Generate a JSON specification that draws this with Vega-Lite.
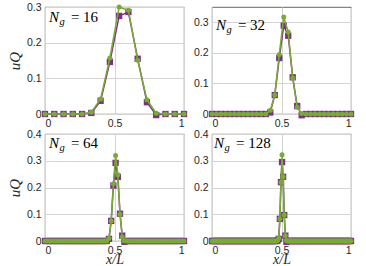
{
  "$schema": "https://vega.github.io/schema/vega-lite/v6.json",
  "padding": {"left": 7, "top": 1, "right": 5, "bottom": 0},
  "background": "white",
  "datasets": {
    "d": [
      {"n":16,"x":0,"p":0,"g":0},{"n":16,"x":0.0667,"p":0,"g":0},{"n":16,"x":0.1333,"p":0,"g":0},{"n":16,"x":0.2,"p":0,"g":0},
      {"n":16,"x":0.2667,"p":0,"g":0},{"n":16,"x":0.3333,"p":0.003,"g":0.005},{"n":16,"x":0.4,"p":0.037,"g":0.042},{"n":16,"x":0.4667,"p":0.146,"g":0.157},
      {"n":16,"x":0.5333,"p":0.275,"g":0.3},{"n":16,"x":0.6,"p":0.286,"g":0.291},{"n":16,"x":0.6667,"p":0.155,"g":0.151},{"n":16,"x":0.7333,"p":0.033,"g":0.04},
      {"n":16,"x":0.8,"p":-0.003,"g":0.002},{"n":16,"x":0.8667,"p":0,"g":0},{"n":16,"x":0.9333,"p":0,"g":0},{"n":16,"x":1,"p":0,"g":0},

      {"n":32,"x":0,"p":0,"g":0},{"n":32,"x":0.0323,"p":0,"g":0},{"n":32,"x":0.0645,"p":0,"g":0},{"n":32,"x":0.0968,"p":0,"g":0},
      {"n":32,"x":0.129,"p":0,"g":0},{"n":32,"x":0.1613,"p":0,"g":0},{"n":32,"x":0.1935,"p":0,"g":0},{"n":32,"x":0.2258,"p":0,"g":0},
      {"n":32,"x":0.2581,"p":0,"g":0},{"n":32,"x":0.2903,"p":0,"g":0},{"n":32,"x":0.3226,"p":0,"g":0},{"n":32,"x":0.3548,"p":0,"g":0},
      {"n":32,"x":0.3871,"p":0,"g":0},{"n":32,"x":0.4194,"p":0.005,"g":0.012},{"n":32,"x":0.4516,"p":0.062,"g":0.062},{"n":32,"x":0.4839,"p":0.183,"g":0.195},
      {"n":32,"x":0.5161,"p":0.289,"g":0.317},{"n":32,"x":0.5484,"p":0.256,"g":0.268},{"n":32,"x":0.5806,"p":0.12,"g":0.118},{"n":32,"x":0.6129,"p":0.026,"g":0.022},
      {"n":32,"x":0.6452,"p":-0.004,"g":0.002},{"n":32,"x":0.6774,"p":0,"g":0},{"n":32,"x":0.7097,"p":0,"g":0},{"n":32,"x":0.7419,"p":0,"g":0},
      {"n":32,"x":0.7742,"p":0,"g":0},{"n":32,"x":0.8065,"p":0,"g":0},{"n":32,"x":0.8387,"p":0,"g":0},{"n":32,"x":0.871,"p":0,"g":0},
      {"n":32,"x":0.9032,"p":0,"g":0},{"n":32,"x":0.9355,"p":0,"g":0},{"n":32,"x":0.9677,"p":0,"g":0},{"n":32,"x":1,"p":0,"g":0},

      {"n":64,"x":0,"p":0,"g":0},{"n":64,"x":0.0159,"p":0,"g":0},{"n":64,"x":0.0317,"p":0,"g":0},{"n":64,"x":0.0476,"p":0,"g":0},
      {"n":64,"x":0.0635,"p":0,"g":0},{"n":64,"x":0.0794,"p":0,"g":0},{"n":64,"x":0.0952,"p":0,"g":0},{"n":64,"x":0.1111,"p":0,"g":0},
      {"n":64,"x":0.127,"p":0,"g":0},{"n":64,"x":0.1429,"p":0,"g":0},{"n":64,"x":0.1587,"p":0,"g":0},{"n":64,"x":0.1746,"p":0,"g":0},
      {"n":64,"x":0.1905,"p":0,"g":0},{"n":64,"x":0.2063,"p":0,"g":0},{"n":64,"x":0.2222,"p":0,"g":0},{"n":64,"x":0.2381,"p":0,"g":0},
      {"n":64,"x":0.254,"p":0,"g":0},{"n":64,"x":0.2698,"p":0,"g":0},{"n":64,"x":0.2857,"p":0,"g":0},{"n":64,"x":0.3016,"p":0,"g":0},
      {"n":64,"x":0.3175,"p":0,"g":0},{"n":64,"x":0.3333,"p":0,"g":0},{"n":64,"x":0.3492,"p":0,"g":0},{"n":64,"x":0.3651,"p":0,"g":0},
      {"n":64,"x":0.381,"p":0,"g":0},{"n":64,"x":0.3968,"p":0,"g":0},{"n":64,"x":0.4127,"p":0,"g":0},{"n":64,"x":0.4286,"p":0,"g":0},
      {"n":64,"x":0.4444,"p":0,"g":0},{"n":64,"x":0.4603,"p":0.008,"g":0.01},{"n":64,"x":0.4762,"p":0.075,"g":0.075},{"n":64,"x":0.4921,"p":0.207,"g":0.214},
      {"n":64,"x":0.5079,"p":0.292,"g":0.32},{"n":64,"x":0.5238,"p":0.24,"g":0.248},{"n":64,"x":0.5397,"p":0.102,"g":0.1},{"n":64,"x":0.5556,"p":0.02,"g":0.015},
      {"n":64,"x":0.5714,"p":-0.003,"g":0.001},{"n":64,"x":0.5873,"p":0,"g":0},{"n":64,"x":0.6032,"p":0,"g":0},{"n":64,"x":0.619,"p":0,"g":0},
      {"n":64,"x":0.6349,"p":0,"g":0},{"n":64,"x":0.6508,"p":0,"g":0},{"n":64,"x":0.6667,"p":0,"g":0},{"n":64,"x":0.6825,"p":0,"g":0},
      {"n":64,"x":0.6984,"p":0,"g":0},{"n":64,"x":0.7143,"p":0,"g":0},{"n":64,"x":0.7302,"p":0,"g":0},{"n":64,"x":0.746,"p":0,"g":0},
      {"n":64,"x":0.7619,"p":0,"g":0},{"n":64,"x":0.7778,"p":0,"g":0},{"n":64,"x":0.7937,"p":0,"g":0},{"n":64,"x":0.8095,"p":0,"g":0},
      {"n":64,"x":0.8254,"p":0,"g":0},{"n":64,"x":0.8413,"p":0,"g":0},{"n":64,"x":0.8571,"p":0,"g":0},{"n":64,"x":0.873,"p":0,"g":0},
      {"n":64,"x":0.8889,"p":0,"g":0},{"n":64,"x":0.9048,"p":0,"g":0},{"n":64,"x":0.9206,"p":0,"g":0},{"n":64,"x":0.9365,"p":0,"g":0},
      {"n":64,"x":0.9524,"p":0,"g":0},{"n":64,"x":0.9683,"p":0,"g":0},{"n":64,"x":0.9841,"p":0,"g":0},{"n":64,"x":1,"p":0,"g":0},

      {"n":128,"x":0,"p":0,"g":0},{"n":128,"x":0.0079,"p":0,"g":0},{"n":128,"x":0.0157,"p":0,"g":0},{"n":128,"x":0.0236,"p":0,"g":0},
      {"n":128,"x":0.0315,"p":0,"g":0},{"n":128,"x":0.0394,"p":0,"g":0},{"n":128,"x":0.0472,"p":0,"g":0},{"n":128,"x":0.0551,"p":0,"g":0},
      {"n":128,"x":0.063,"p":0,"g":0},{"n":128,"x":0.0709,"p":0,"g":0},{"n":128,"x":0.0787,"p":0,"g":0},{"n":128,"x":0.0866,"p":0,"g":0},
      {"n":128,"x":0.0945,"p":0,"g":0},{"n":128,"x":0.1024,"p":0,"g":0},{"n":128,"x":0.1102,"p":0,"g":0},{"n":128,"x":0.1181,"p":0,"g":0},
      {"n":128,"x":0.126,"p":0,"g":0},{"n":128,"x":0.1339,"p":0,"g":0},{"n":128,"x":0.1417,"p":0,"g":0},{"n":128,"x":0.1496,"p":0,"g":0},
      {"n":128,"x":0.1575,"p":0,"g":0},{"n":128,"x":0.1654,"p":0,"g":0},{"n":128,"x":0.1732,"p":0,"g":0},{"n":128,"x":0.1811,"p":0,"g":0},
      {"n":128,"x":0.189,"p":0,"g":0},{"n":128,"x":0.1969,"p":0,"g":0},{"n":128,"x":0.2047,"p":0,"g":0},{"n":128,"x":0.2126,"p":0,"g":0},
      {"n":128,"x":0.2205,"p":0,"g":0},{"n":128,"x":0.2283,"p":0,"g":0},{"n":128,"x":0.2362,"p":0,"g":0},{"n":128,"x":0.2441,"p":0,"g":0},
      {"n":128,"x":0.252,"p":0,"g":0},{"n":128,"x":0.2598,"p":0,"g":0},{"n":128,"x":0.2677,"p":0,"g":0},{"n":128,"x":0.2756,"p":0,"g":0},
      {"n":128,"x":0.2835,"p":0,"g":0},{"n":128,"x":0.2913,"p":0,"g":0},{"n":128,"x":0.2992,"p":0,"g":0},{"n":128,"x":0.3071,"p":0,"g":0},
      {"n":128,"x":0.315,"p":0,"g":0},{"n":128,"x":0.3228,"p":0,"g":0},{"n":128,"x":0.3307,"p":0,"g":0},{"n":128,"x":0.3386,"p":0,"g":0},
      {"n":128,"x":0.3465,"p":0,"g":0},{"n":128,"x":0.3543,"p":0,"g":0},{"n":128,"x":0.3622,"p":0,"g":0},{"n":128,"x":0.3701,"p":0,"g":0},
      {"n":128,"x":0.378,"p":0,"g":0},{"n":128,"x":0.3858,"p":0,"g":0},{"n":128,"x":0.3937,"p":0,"g":0},{"n":128,"x":0.4016,"p":0,"g":0},
      {"n":128,"x":0.4094,"p":0,"g":0},{"n":128,"x":0.4173,"p":0,"g":0},{"n":128,"x":0.4252,"p":0,"g":0},{"n":128,"x":0.4331,"p":0,"g":0},
      {"n":128,"x":0.4409,"p":0,"g":0},{"n":128,"x":0.4488,"p":0,"g":0},{"n":128,"x":0.4567,"p":0,"g":0},{"n":128,"x":0.4646,"p":0,"g":0},
      {"n":128,"x":0.4724,"p":0.002,"g":0.003},{"n":128,"x":0.4803,"p":0.008,"g":0.01},{"n":128,"x":0.4882,"p":0.083,"g":0.083},{"n":128,"x":0.4961,"p":0.22,"g":0.22},
      {"n":128,"x":0.5039,"p":0.295,"g":0.322},{"n":128,"x":0.5118,"p":0.24,"g":0.24},{"n":128,"x":0.5197,"p":0.097,"g":0.097},{"n":128,"x":0.5276,"p":0.02,"g":0.02},
      {"n":128,"x":0.5354,"p":-0.003,"g":0.002},{"n":128,"x":0.5433,"p":0,"g":0},{"n":128,"x":0.5512,"p":0,"g":0},{"n":128,"x":0.5591,"p":0,"g":0},
      {"n":128,"x":0.5669,"p":0,"g":0},{"n":128,"x":0.5748,"p":0,"g":0},{"n":128,"x":0.5827,"p":0,"g":0},{"n":128,"x":0.5906,"p":0,"g":0},
      {"n":128,"x":0.5984,"p":0,"g":0},{"n":128,"x":0.6063,"p":0,"g":0},{"n":128,"x":0.6142,"p":0,"g":0},{"n":128,"x":0.622,"p":0,"g":0},
      {"n":128,"x":0.6299,"p":0,"g":0},{"n":128,"x":0.6378,"p":0,"g":0},{"n":128,"x":0.6457,"p":0,"g":0},{"n":128,"x":0.6535,"p":0,"g":0},
      {"n":128,"x":0.6614,"p":0,"g":0},{"n":128,"x":0.6693,"p":0,"g":0},{"n":128,"x":0.6772,"p":0,"g":0},{"n":128,"x":0.685,"p":0,"g":0},
      {"n":128,"x":0.6929,"p":0,"g":0},{"n":128,"x":0.7008,"p":0,"g":0},{"n":128,"x":0.7087,"p":0,"g":0},{"n":128,"x":0.7165,"p":0,"g":0},
      {"n":128,"x":0.7244,"p":0,"g":0},{"n":128,"x":0.7323,"p":0,"g":0},{"n":128,"x":0.7402,"p":0,"g":0},{"n":128,"x":0.748,"p":0,"g":0},
      {"n":128,"x":0.7559,"p":0,"g":0},{"n":128,"x":0.7638,"p":0,"g":0},{"n":128,"x":0.7717,"p":0,"g":0},{"n":128,"x":0.7795,"p":0,"g":0},
      {"n":128,"x":0.7874,"p":0,"g":0},{"n":128,"x":0.7953,"p":0,"g":0},{"n":128,"x":0.8031,"p":0,"g":0},{"n":128,"x":0.811,"p":0,"g":0},
      {"n":128,"x":0.8189,"p":0,"g":0},{"n":128,"x":0.8268,"p":0,"g":0},{"n":128,"x":0.8346,"p":0,"g":0},{"n":128,"x":0.8425,"p":0,"g":0},
      {"n":128,"x":0.8504,"p":0,"g":0},{"n":128,"x":0.8583,"p":0,"g":0},{"n":128,"x":0.8661,"p":0,"g":0},{"n":128,"x":0.874,"p":0,"g":0},
      {"n":128,"x":0.8819,"p":0,"g":0},{"n":128,"x":0.8898,"p":0,"g":0},{"n":128,"x":0.8976,"p":0,"g":0},{"n":128,"x":0.9055,"p":0,"g":0},
      {"n":128,"x":0.9134,"p":0,"g":0},{"n":128,"x":0.9213,"p":0,"g":0},{"n":128,"x":0.9291,"p":0,"g":0},{"n":128,"x":0.937,"p":0,"g":0},
      {"n":128,"x":0.9449,"p":0,"g":0},{"n":128,"x":0.9528,"p":0,"g":0},{"n":128,"x":0.9606,"p":0,"g":0},{"n":128,"x":0.9685,"p":0,"g":0},
      {"n":128,"x":0.9764,"p":0,"g":0},{"n":128,"x":0.9843,"p":0,"g":0},{"n":128,"x":0.9921,"p":0,"g":0},{"n":128,"x":1,"p":0,"g":0}
    ]
  },
  "columns": 2,
  "bounds": "flush",
  "spacing": {"row": 20, "column": 28},
  "concat": [
    {
      "width": 139, "height": 107,
      "layer": [
        {"data": {"name": "d"}, "transform": [{"filter": "datum.n == 16"}],
         "encoding": {
           "x": {"field": "x", "type": "quantitative", "scale": {"domain": [0, 1]}, "axis": {"values": [0, 0.5, 1], "format": "~g", "title": null, "labelOverlap": false, "grid": true}},
           "y": {"field": "p", "type": "quantitative", "scale": {"domain": [0, 0.3]}, "axis": {"values": [0, 0.1, 0.2, 0.3], "format": "~g", "title": "uQ", "labelOverlap": false, "grid": true}}
         },
         "layer": [
           {"mark": {"type": "line", "color": "#7E2F8E", "strokeWidth": 1.5}},
           {"mark": {"type": "square", "color": "#7E2F8E", "size": 40, "opacity": 1}},
           {"mark": {"type": "line", "color": "#77AC30", "strokeWidth": 1.5}, "encoding": {"y": {"field": "g", "type": "quantitative", "title": "uQ"}}},
           {"mark": {"type": "circle", "color": "#77AC30", "size": 25, "opacity": 1}, "encoding": {"y": {"field": "g", "type": "quantitative", "title": "uQ"}}}
         ]},
        {"data": {"values": [{"t": "N"}]}, "mark": {"type": "text", "font": "Liberation Serif", "fontStyle": "italic", "fontSize": 15, "align": "left", "baseline": "alphabetic", "color": "#000"},
         "encoding": {"x": {"datum": 0.028, "type": "quantitative", "axis": {"values": [0, 0.5, 1], "format": "~g", "title": null, "labelOverlap": false, "grid": true}}, "y": {"datum": 0.2593, "type": "quantitative", "axis": {"values": [0, 0.1, 0.2, 0.3], "format": "~g", "title": "uQ", "labelOverlap": false, "grid": true}}, "text": {"field": "t"}}},
        {"data": {"values": [{"t": "g"}]}, "mark": {"type": "text", "font": "Liberation Serif", "fontStyle": "italic", "fontSize": 10.5, "align": "left", "baseline": "alphabetic", "dx": 10.5, "dy": 3, "color": "#000"},
         "encoding": {"x": {"datum": 0.028, "type": "quantitative", "axis": {"values": [0, 0.5, 1], "format": "~g", "title": null, "labelOverlap": false, "grid": true}}, "y": {"datum": 0.2593, "type": "quantitative", "axis": {"values": [0, 0.1, 0.2, 0.3], "format": "~g", "title": "uQ", "labelOverlap": false, "grid": true}}, "text": {"field": "t"}}},
        {"data": {"values": [{"t": "= 16"}]}, "mark": {"type": "text", "font": "Liberation Serif", "fontSize": 15, "align": "left", "baseline": "alphabetic", "dx": 22, "color": "#000"},
         "encoding": {"x": {"datum": 0.028, "type": "quantitative", "axis": {"values": [0, 0.5, 1], "format": "~g", "title": null, "labelOverlap": false, "grid": true}}, "y": {"datum": 0.2593, "type": "quantitative", "axis": {"values": [0, 0.1, 0.2, 0.3], "format": "~g", "title": "uQ", "labelOverlap": false, "grid": true}}, "text": {"field": "t"}}}
      ]
    },
    {
      "width": 139, "height": 107,
      "layer": [
        {"data": {"name": "d"}, "transform": [{"filter": "datum.n == 32"}],
         "encoding": {
           "x": {"field": "x", "type": "quantitative", "scale": {"domain": [0, 1]}, "axis": {"values": [0, 0.5, 1], "format": "~g", "title": null, "labelOverlap": false, "grid": true}},
           "y": {"field": "p", "type": "quantitative", "scale": {"domain": [0, 0.317]}, "axis": {"values": [0, 0.1, 0.2, 0.3], "format": "~g", "title": null, "labelOverlap": false, "grid": true}}
         },
         "layer": [
           {"mark": {"type": "line", "color": "#7E2F8E", "strokeWidth": 1.5}},
           {"mark": {"type": "square", "color": "#7E2F8E", "size": 40, "opacity": 1}},
           {"mark": {"type": "line", "color": "#77AC30", "strokeWidth": 1.5}, "encoding": {"y": {"field": "g", "type": "quantitative", "title": null}}},
           {"mark": {"type": "circle", "color": "#77AC30", "size": 25, "opacity": 1}, "encoding": {"y": {"field": "g", "type": "quantitative", "title": null}}}
         ]},
        {"data": {"values": [{"t": "N"}]}, "mark": {"type": "text", "font": "Liberation Serif", "fontStyle": "italic", "fontSize": 15, "align": "left", "baseline": "alphabetic", "color": "#000"},
         "encoding": {"x": {"datum": 0.028, "type": "quantitative", "axis": {"values": [0, 0.5, 1], "format": "~g", "title": null, "labelOverlap": false, "grid": true}}, "y": {"datum": 0.274, "type": "quantitative", "axis": {"values": [0, 0.1, 0.2, 0.3], "format": "~g", "title": null, "labelOverlap": false, "grid": true}}, "text": {"field": "t"}}},
        {"data": {"values": [{"t": "g"}]}, "mark": {"type": "text", "font": "Liberation Serif", "fontStyle": "italic", "fontSize": 10.5, "align": "left", "baseline": "alphabetic", "dx": 10.5, "dy": 3, "color": "#000"},
         "encoding": {"x": {"datum": 0.028, "type": "quantitative", "axis": {"values": [0, 0.5, 1], "format": "~g", "title": null, "labelOverlap": false, "grid": true}}, "y": {"datum": 0.274, "type": "quantitative", "axis": {"values": [0, 0.1, 0.2, 0.3], "format": "~g", "title": null, "labelOverlap": false, "grid": true}}, "text": {"field": "t"}}},
        {"data": {"values": [{"t": "= 32"}]}, "mark": {"type": "text", "font": "Liberation Serif", "fontSize": 15, "align": "left", "baseline": "alphabetic", "dx": 22, "color": "#000"},
         "encoding": {"x": {"datum": 0.028, "type": "quantitative", "axis": {"values": [0, 0.5, 1], "format": "~g", "title": null, "labelOverlap": false, "grid": true}}, "y": {"datum": 0.274, "type": "quantitative", "axis": {"values": [0, 0.1, 0.2, 0.3], "format": "~g", "title": null, "labelOverlap": false, "grid": true}}, "text": {"field": "t"}}}
      ]
    },
    {
      "width": 139, "height": 107,
      "layer": [
        {"data": {"name": "d"}, "transform": [{"filter": "datum.n == 64"}],
         "encoding": {
           "x": {"field": "x", "type": "quantitative", "scale": {"domain": [0, 1]}, "axis": {"values": [0, 0.5, 1], "format": "~g", "title": "x/L", "labelOverlap": false, "grid": true}},
           "y": {"field": "p", "type": "quantitative", "scale": {"domain": [0, 0.4]}, "axis": {"values": [0, 0.1, 0.2, 0.3, 0.4], "format": "~g", "title": "uQ", "labelOverlap": false, "grid": true}}
         },
         "layer": [
           {"mark": {"type": "line", "color": "#7E2F8E", "strokeWidth": 1.5}},
           {"mark": {"type": "square", "color": "#7E2F8E", "size": 40, "opacity": 1}},
           {"mark": {"type": "line", "color": "#77AC30", "strokeWidth": 1.5}, "encoding": {"y": {"field": "g", "type": "quantitative", "title": "uQ"}}},
           {"mark": {"type": "circle", "color": "#77AC30", "size": 25, "opacity": 1}, "encoding": {"y": {"field": "g", "type": "quantitative", "title": "uQ"}}}
         ]},
        {"data": {"values": [{"t": "N"}]}, "mark": {"type": "text", "font": "Liberation Serif", "fontStyle": "italic", "fontSize": 15, "align": "left", "baseline": "alphabetic", "color": "#000"},
         "encoding": {"x": {"datum": 0.028, "type": "quantitative", "axis": {"values": [0, 0.5, 1], "format": "~g", "title": "x/L", "labelOverlap": false, "grid": true}}, "y": {"datum": 0.3458, "type": "quantitative", "axis": {"values": [0, 0.1, 0.2, 0.3, 0.4], "format": "~g", "title": "uQ", "labelOverlap": false, "grid": true}}, "text": {"field": "t"}}},
        {"data": {"values": [{"t": "g"}]}, "mark": {"type": "text", "font": "Liberation Serif", "fontStyle": "italic", "fontSize": 10.5, "align": "left", "baseline": "alphabetic", "dx": 10.5, "dy": 3, "color": "#000"},
         "encoding": {"x": {"datum": 0.028, "type": "quantitative", "axis": {"values": [0, 0.5, 1], "format": "~g", "title": "x/L", "labelOverlap": false, "grid": true}}, "y": {"datum": 0.3458, "type": "quantitative", "axis": {"values": [0, 0.1, 0.2, 0.3, 0.4], "format": "~g", "title": "uQ", "labelOverlap": false, "grid": true}}, "text": {"field": "t"}}},
        {"data": {"values": [{"t": "= 64"}]}, "mark": {"type": "text", "font": "Liberation Serif", "fontSize": 15, "align": "left", "baseline": "alphabetic", "dx": 22, "color": "#000"},
         "encoding": {"x": {"datum": 0.028, "type": "quantitative", "axis": {"values": [0, 0.5, 1], "format": "~g", "title": "x/L", "labelOverlap": false, "grid": true}}, "y": {"datum": 0.3458, "type": "quantitative", "axis": {"values": [0, 0.1, 0.2, 0.3, 0.4], "format": "~g", "title": "uQ", "labelOverlap": false, "grid": true}}, "text": {"field": "t"}}}
      ]
    },
    {
      "width": 139, "height": 107,
      "layer": [
        {"data": {"name": "d"}, "transform": [{"filter": "datum.n == 128"}],
         "encoding": {
           "x": {"field": "x", "type": "quantitative", "scale": {"domain": [0, 1]}, "axis": {"values": [0, 0.5, 1], "format": "~g", "title": "x/L", "labelOverlap": false, "grid": true}},
           "y": {"field": "p", "type": "quantitative", "scale": {"domain": [0, 0.4]}, "axis": {"values": [0, 0.1, 0.2, 0.3, 0.4], "format": "~g", "title": null, "labelOverlap": false, "grid": true}}
         },
         "layer": [
           {"mark": {"type": "line", "color": "#7E2F8E", "strokeWidth": 1.5}},
           {"mark": {"type": "square", "color": "#7E2F8E", "size": 40, "opacity": 1}},
           {"mark": {"type": "line", "color": "#77AC30", "strokeWidth": 1.5}, "encoding": {"y": {"field": "g", "type": "quantitative", "title": null}}},
           {"mark": {"type": "circle", "color": "#77AC30", "size": 25, "opacity": 1}, "encoding": {"y": {"field": "g", "type": "quantitative", "title": null}}}
         ]},
        {"data": {"values": [{"t": "N"}]}, "mark": {"type": "text", "font": "Liberation Serif", "fontStyle": "italic", "fontSize": 15, "align": "left", "baseline": "alphabetic", "color": "#000"},
         "encoding": {"x": {"datum": 0.015, "type": "quantitative", "axis": {"values": [0, 0.5, 1], "format": "~g", "title": "x/L", "labelOverlap": false, "grid": true}}, "y": {"datum": 0.3458, "type": "quantitative", "axis": {"values": [0, 0.1, 0.2, 0.3, 0.4], "format": "~g", "title": null, "labelOverlap": false, "grid": true}}, "text": {"field": "t"}}},
        {"data": {"values": [{"t": "g"}]}, "mark": {"type": "text", "font": "Liberation Serif", "fontStyle": "italic", "fontSize": 10.5, "align": "left", "baseline": "alphabetic", "dx": 10.5, "dy": 3, "color": "#000"},
         "encoding": {"x": {"datum": 0.015, "type": "quantitative", "axis": {"values": [0, 0.5, 1], "format": "~g", "title": "x/L", "labelOverlap": false, "grid": true}}, "y": {"datum": 0.3458, "type": "quantitative", "axis": {"values": [0, 0.1, 0.2, 0.3, 0.4], "format": "~g", "title": null, "labelOverlap": false, "grid": true}}, "text": {"field": "t"}}},
        {"data": {"values": [{"t": "= 128"}]}, "mark": {"type": "text", "font": "Liberation Serif", "fontSize": 15, "align": "left", "baseline": "alphabetic", "dx": 22, "color": "#000"},
         "encoding": {"x": {"datum": 0.015, "type": "quantitative", "axis": {"values": [0, 0.5, 1], "format": "~g", "title": "x/L", "labelOverlap": false, "grid": true}}, "y": {"datum": 0.3458, "type": "quantitative", "axis": {"values": [0, 0.1, 0.2, 0.3, 0.4], "format": "~g", "title": null, "labelOverlap": false, "grid": true}}, "text": {"field": "t"}}}
      ]
    }
  ],
  "config": {
    "view": {"stroke": "#404040", "strokeWidth": 0.8},
    "axis": {
      "grid": true, "gridColor": "#d4d4d4", "gridWidth": 1,
      "domain": false, "labelOverlap": false,
      "ticks": true, "tickSize": 0,
      "labelFont": "Liberation Sans", "labelFontSize": 10.5, "labelColor": "#262626",
      "titleFont": "Liberation Serif", "titleFontStyle": "italic", "titleFontWeight": "normal", "titleFontSize": 15, "titleColor": "#262626"
    },
    "axisX": {"labelPadding": 4, "titlePadding": -3, "titleFontSize": 14},
    "axisY": {"labelPadding": 4, "titlePadding": 4}
  }
}
